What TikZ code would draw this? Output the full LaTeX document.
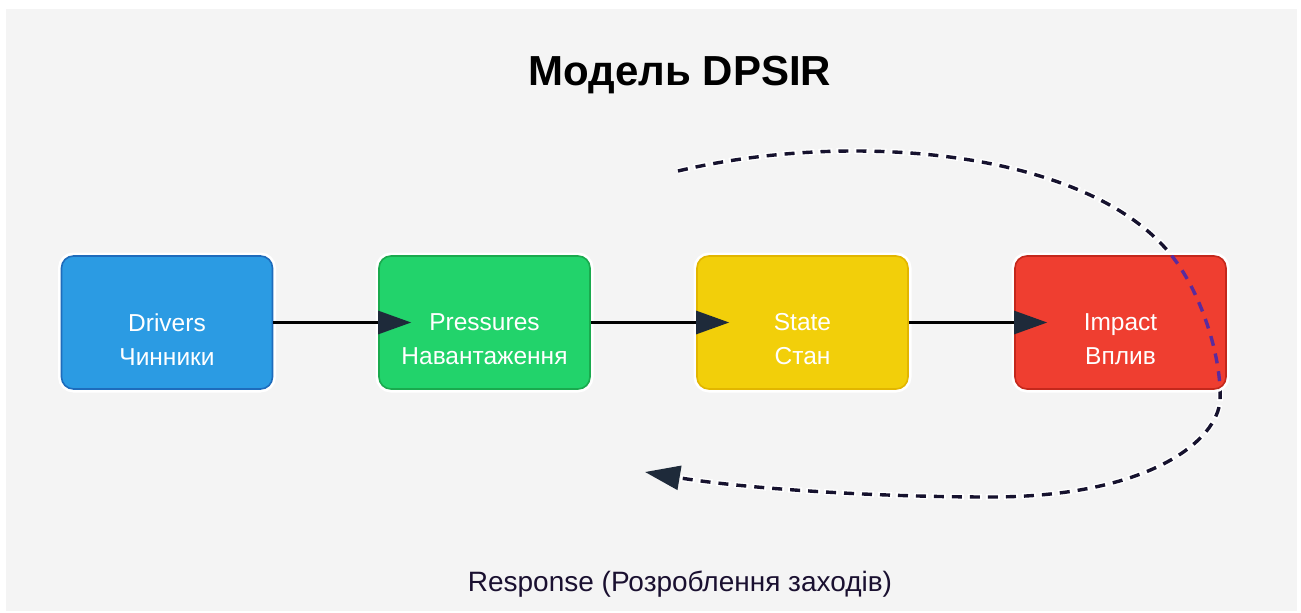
\documentclass[tikz,border=0pt]{standalone}
\usepackage{fontspec}
\setmainfont{Liberation Sans}
\usetikzlibrary{arrows.meta}

\definecolor{pagebg}{HTML}{F4F4F4}
\definecolor{ink}{HTML}{1E2A3A}
\definecolor{loopink}{HTML}{16122E}
\definecolor{loopover}{HTML}{5A2B9E}
\definecolor{driversfill}{HTML}{2B9BE3}
\definecolor{driversline}{HTML}{1E6CBC}
\definecolor{pressfill}{HTML}{22D36B}
\definecolor{pressline}{HTML}{1AAA4E}
\definecolor{statefill}{HTML}{F2CF0A}
\definecolor{stateline}{HTML}{E2B600}
\definecolor{impactfill}{HTML}{EF3E30}
\definecolor{impactline}{HTML}{C4281C}
\definecolor{responseink}{HTML}{1A1030}

\tikzset{
  stagebox/.style={
    rectangle, rounded corners=12pt, line width=1.6pt,
    minimum width=211pt, minimum height=133pt, inner sep=0pt,
    preaction={draw=white, line width=7pt}
  },
  stagetext/.style={
    text=white, align=center, inner sep=0pt,
    font=\fontsize{24.5}{34}\selectfont
  },
  flow/.style={
    line width=2.6pt, draw=black,
    -{Triangle[length=33pt,width=23pt,fill=ink,color=ink]},
    shorten >=-33pt
  },
  loopline/.style={
    line width=3.4pt, draw=loopink,
    dash pattern=on 10pt off 8pt
  },
  loophalo/.style={
    line width=6pt, draw=white, dash pattern=on 14pt off 4pt, dash phase=2pt
  }
}

\begin{document}
\begin{tikzpicture}[x=1pt,y=-1pt]
  % page and panel
  \fill[white] (0,0) rectangle (1301,613);
  \useasboundingbox (0,0) rectangle (1301,613);
  \fill[pagebg] (6,9) rectangle (1297,611);

  % heading
  \node[font=\bfseries\fontsize{42}{46}\selectfont] (title) at (680,75)
    {Модель DPSIR};

  % end points of the feedback loop
  \coordinate (fbstart) at (678,171);
  \coordinate (fbend) at (645,472);
  \def\loopcurve{(fbstart) .. controls (850,130) and (1080,150) .. (1167,250)
      .. controls (1202,290) and (1222,360) .. (1220,400)
      .. controls (1218,440) and (1150,497) .. (990,497)
      .. controls (870,497) and (740,488) .. (fbend)}

  % feedback loop (halo, then dashes)
  \draw[loophalo, -{Triangle[length=35pt,width=24pt]}] \loopcurve;
  \draw[loopline, -{Triangle[length=35pt,width=24pt,fill=ink,color=ink]}] \loopcurve;

  % stages
  \node[stagebox, fill=driversfill, draw=driversline] (drivers) at (167,322.5) {};
  \node[stagebox, fill=pressfill, draw=pressline] (pressures) at (484.5,322.5) {};
  \node[stagebox, fill=statefill, draw=stateline] (state) at (802.5,322.5) {};
  \node[stagebox, fill=impactfill, draw=impactline] (impact) at (1120.5,322.5) {};

  % stage labels
  \node[stagetext] (driverstext) at ([yshift=-17pt]drivers.center) {Drivers\\Чинники};
  \node[stagetext] (pressurestext) at ([yshift=-17pt]pressures.center) {Pressures\\Навантаження};
  \node[stagetext] (statetext) at ([yshift=-17pt]state.center) {State\\Стан};
  \node[stagetext] (impacttext) at ([yshift=-17pt]impact.center) {Impact\\Вплив};

  % causal chain
  \draw[flow] (drivers.east) -- (pressures.west);
  \draw[flow] (pressures.east) -- (state.west);
  \draw[flow] (state.east) -- (impact.west);

  % loop seen across the impact box
  \begin{scope}
    \clip[rounded corners=12pt] (impact.south west) rectangle (impact.north east);
    \draw[loopline, draw=loopover] \loopcurve;
  \end{scope}

  % response caption
  \node[font=\fontsize{28}{32}\selectfont, text=responseink] (response) at (680,584)
    {Response (Розроблення заходів)};
\end{tikzpicture}
\end{document}
